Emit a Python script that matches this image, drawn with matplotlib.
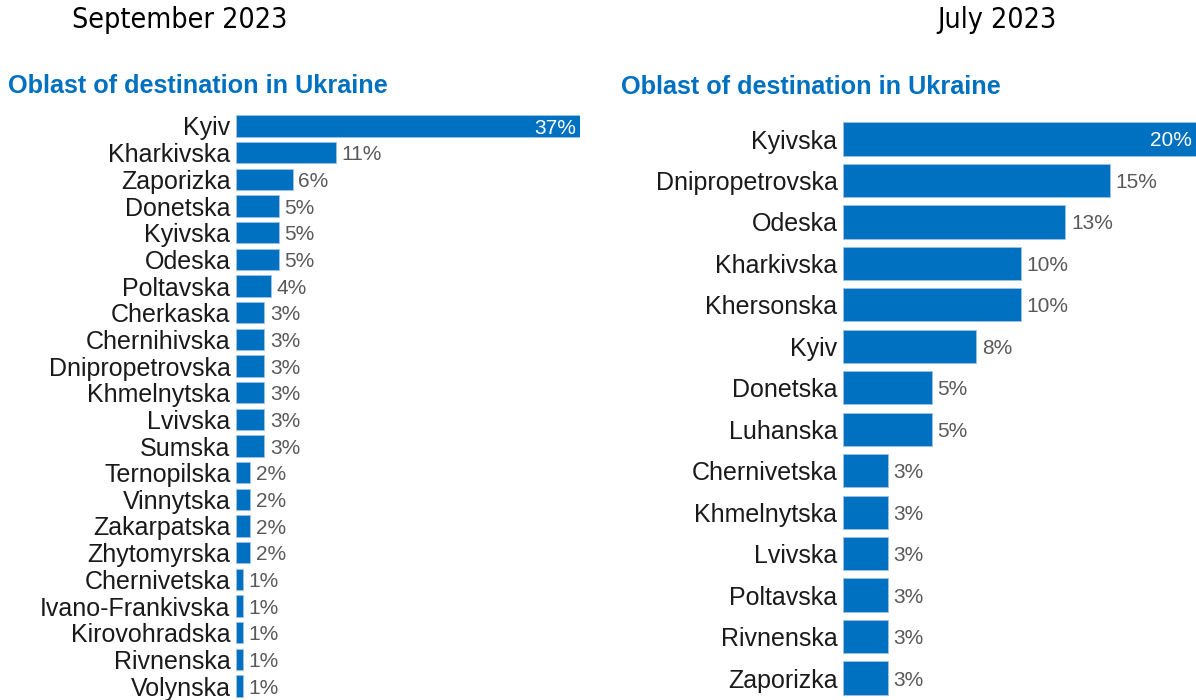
import matplotlib
matplotlib.use('Agg')
import matplotlib.pyplot as plt

# Data (bar lengths estimated, labels as printed)
sep_regions = ['Kyiv', 'Kharkivska', 'Zaporizka', 'Donetska', 'Kyivska', 'Odeska',
               'Poltavska', 'Cherkaska', 'Chernihivska', 'Dnipropetrovska',
               'Khmelnytska', 'Lvivska', 'Sumska', 'Ternopilska', 'Vinnytska',
               'Zakarpatska', 'Zhytomyrska', 'Chernivetska', 'Ivano-Frankivska',
               'Kirovohradska', 'Rivnenska', 'Volynska']
sep_values = [37.0, 10.75, 6.1, 4.6, 4.6, 4.6, 3.8, 3.05, 3.05, 3.05, 3.05, 3.05,
              3.05, 1.5, 1.5, 1.5, 1.5, 0.72, 0.72, 0.72, 0.72, 0.72]
sep_labels = ['37%', '11%', '6%', '5%', '5%', '5%', '4%', '3%', '3%', '3%', '3%',
              '3%', '3%', '2%', '2%', '2%', '2%', '1%', '1%', '1%', '1%', '1%']

jul_regions = ['Kyivska', 'Dnipropetrovska', 'Odeska', 'Kharkivska', 'Khersonska',
               'Kyiv', 'Donetska', 'Luhanska', 'Chernivetska', 'Khmelnytska',
               'Lvivska', 'Poltavska', 'Rivnenska', 'Zaporizka']
jul_values = [20.0, 15.1, 12.6, 10.07, 10.07, 7.55, 5.04, 5.04, 2.53, 2.53, 2.53,
              2.53, 2.53, 2.53]
jul_labels = ['20%', '15%', '13%', '10%', '10%', '8%', '5%', '5%', '3%', '3%', '3%',
              '3%', '3%', '3%']

W, H = 1196, 700
BLUE = '#0070C0'
GREY = '#595959'
plt.rcParams['font.family'] = ['Liberation Sans', 'DejaVu Sans']

fig = plt.figure(figsize=(W / 100, H / 100), dpi=100)


def px_axes(x0, x1, y_top, y_bot):
    return fig.add_axes([x0 / W, 1 - y_bot / H, (x1 - x0) / W, (y_bot - y_top) / H])


def draw_panel(ax, names, vals, labels, xmax, inside_idx):
    pos = list(range(len(names)))
    ax.barh(pos, vals, height=0.8, color=BLUE, edgecolor='#9DC3E6', linewidth=0.6)
    ax.set_xlim(0, xmax)
    ax.set_ylim(len(names) - 0.5, -0.5)
    ax.set_yticks(pos)
    ax.set_yticklabels(names, fontsize=18, color='#1a1a1a')
    ax.tick_params(axis='y', length=0, pad=4)
    ax.set_xticks([])
    for s in ax.spines.values():
        s.set_visible(False)
    for i, (v, lab) in enumerate(zip(vals, labels)):
        if i == inside_idx:
            ax.annotate(lab, (v, i), xytext=(-3, 0), textcoords='offset points',
                        ha='right', va='center_baseline', fontsize=15, color='white')
        else:
            ax.annotate(lab, (v, i), xytext=(4, 0), textcoords='offset points',
                        ha='left', va='center_baseline', fontsize=15, color=GREY)


# left: September
n1 = len(sep_regions)
sp1 = (686 - 126) / (n1 - 1)
ax1 = px_axes(236, 580, 126 - sp1 / 2, 686 + sp1 / 2)
draw_panel(ax1, sep_regions, sep_values, sep_labels, 37, 0)

# right: July
n2 = len(jul_regions)
sp2 = (678 - 139) / (n2 - 1)
ax2 = px_axes(843, 1196, 139 - sp2 / 2, 678 + sp2 / 2)
draw_panel(ax2, jul_regions, jul_values, jul_labels, 20, 0)

fig.text(72 / W, 1 - 20 / H, 'September 2023', fontsize=20.5, family='DejaVu Sans',
         stretch='condensed', ha='left', va='center', color='black')
fig.text(997 / W, 1 - 20 / H, 'July 2023', fontsize=20.5, family='DejaVu Sans',
         stretch='condensed', ha='center', va='center', color='black')

fig.text(8 / W, 1 - 86 / H, 'Oblast of destination in Ukraine', fontsize=18.2,
         fontweight='bold', color=BLUE, ha='left', va='center')
fig.text(621 / W, 1 - 87 / H, 'Oblast of destination in Ukraine', fontsize=18.2,
         fontweight='bold', color=BLUE, ha='left', va='center')

fig.savefig('out.png', dpi=100)
